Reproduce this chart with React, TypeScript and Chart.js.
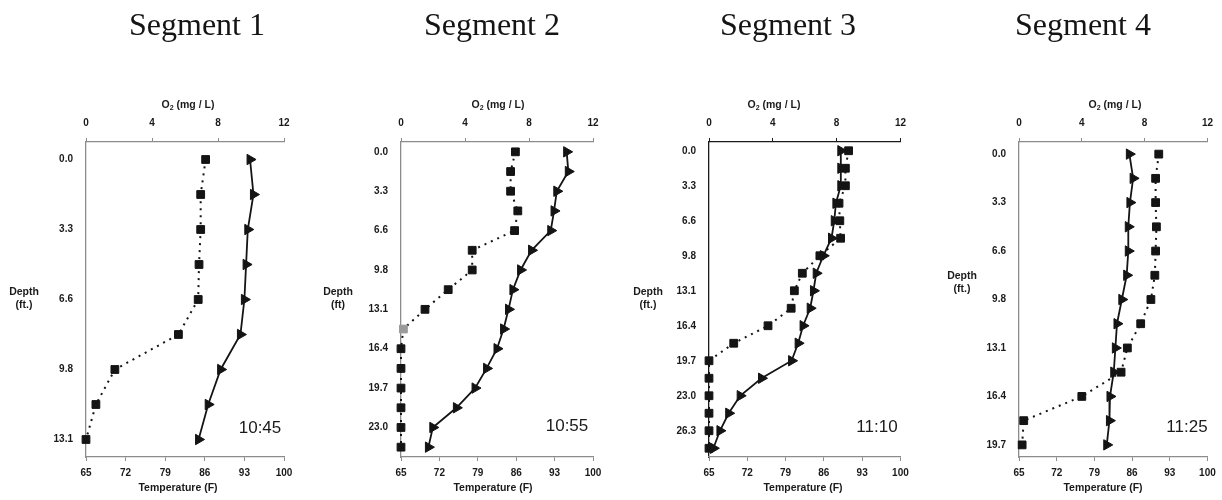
import React, { useEffect, useRef } from "react";
import { Chart, registerables } from "chart.js";

Chart.register(...registerables);

// ---------- data ----------
const segmentTitles = ["Segment 1", "Segment 2", "Segment 3", "Segment 4"];
const timeLabels = ["10:45", "10:55", "11:10", "11:25"];

const depth1 = ["0.0", "1.6", "3.3", "4.9", "6.6", "8.2", "9.8", "11.5", "13.1"];
const o2Seg1 = [7.25, 6.95, 6.95, 6.85, 6.8, 5.6, 1.75, 0.6, 0.0];
const tempSeg1 = [94.0, 94.6, 93.6, 93.3, 93.0, 92.3, 88.8, 86.6, 84.9];

const depth2 = ["0.0", "1.6", "3.3", "4.9", "6.6", "8.2", "9.8", "11.5", "13.1", "14.8", "16.4", "18.0", "19.7", "21.3", "23.0", "24.6"];
const o2Seg2 = [7.15, 6.85, 6.85, 7.3, 7.1, 4.45, 4.45, 2.95, 1.5, 0.15, 0, 0, 0, 0, 0, 0];
const tempSeg2 = [95.2, 95.5, 93.4, 92.9, 92.3, 88.8, 86.8, 85.4, 84.6, 83.7, 82.5, 80.6, 78.5, 75.1, 70.8, 70.0];

const depth3 = ["0.0", "1.6", "3.3", "4.9", "6.6", "8.2", "9.8", "11.5", "13.1", "14.8", "16.4", "18.0", "19.7", "21.3", "23.0", "24.6", "26.3", "27.9"];
const o2Seg3 = [8.75, 8.55, 8.55, 8.15, 8.2, 8.25, 6.95, 5.85, 5.35, 5.15, 3.7, 1.55, 0, 0, 0, 0, 0, 0];
const tempSeg3 = [89.1, 89.1, 89.1, 88.2, 87.9, 87.4, 85.9, 84.6, 84.1, 83.5, 82.2, 81.3, 80.1, 74.6, 70.7, 68.6, 67.0, 65.8];

const depth4 = ["0.0", "1.6", "3.3", "4.9", "6.6", "8.2", "9.8", "11.5", "13.1", "14.8", "16.4", "18.0", "19.7"];
const o2Seg4 = [8.9, 8.7, 8.7, 8.75, 8.7, 8.65, 8.4, 7.75, 6.9, 6.5, 4.0, 0.3, 0.2];
const tempSeg4 = [85.5, 86.2, 85.6, 85.3, 85.3, 85.0, 84.1, 83.2, 82.9, 82.6, 81.9, 81.8, 81.3];

// index of the grey (highlighted) oxygen reading per segment (-1 = none)
const greyPoint = [-1, 9, -1, -1];

const o2Min = 0, o2Max = 12, o2Step = 4;
const tempMin = 65, tempMax = 100, tempStep = 7;

const depths = [depth1, depth2, depth3, depth4];
const o2s = [o2Seg1, o2Seg2, o2Seg3, o2Seg4];
const temps = [tempSeg1, tempSeg2, tempSeg3, tempSeg4];

// ---------- layout (positions / styles only) ----------
const panels = [
  { cl: 0, cw: 300, pl: 86, pr: 284, titleX: 129, o2X: 188, tempX: 178, depthX: 24, depthY: 292, ft: "(ft.)", timeX: 260, timeY: 428, top: "#8c8c8c", left: "#8c8c8c", bottom: "#8c8c8c" },
  { cl: 300, cw: 310, pl: 401, pr: 593, titleX: 424, o2X: 498, tempX: 493, depthX: 338, depthY: 292, ft: "(ft)", timeX: 567, timeY: 426, top: "#8c8c8c", left: "#8c8c8c", bottom: "#8c8c8c" },
  { cl: 610, cw: 305, pl: 709, pr: 902, titleX: 720, o2X: 774, tempX: 803, depthX: 648, depthY: 292, ft: "(ft.)", timeX: 877, timeY: 427, top: "#1a1a1a", left: "#1a1a1a", bottom: "#8c8c8c" },
  { cl: 915, cw: 307, pl: 1019, pr: 1210, titleX: 1015, o2X: 1115, tempX: 1103, depthX: 962, depthY: 276, ft: "(ft.)", timeX: 1187, timeY: 427, top: "#8c8c8c", left: "#8c8c8c", bottom: "#8c8c8c" },
];

const SANS = '"Liberation Sans", Arial, sans-serif';
const TEXT = "#1a1a1a";

function drawO2Title(ctx: CanvasRenderingContext2D, cx: number, cy: number) {
  const big = "bold 10.5px " + SANS;
  const small = "bold 7px " + SANS;
  ctx.font = big;
  const wO = ctx.measureText("O").width;
  const rest = " (mg / L)";
  const wR = ctx.measureText(rest).width;
  ctx.font = small;
  const w2 = ctx.measureText("2").width;
  const total = wO + w2 + wR;
  let x = cx - total / 2;
  ctx.textAlign = "left";
  ctx.textBaseline = "middle";
  ctx.font = big;
  ctx.fillText("O", x, cy);
  x += wO;
  ctx.font = small;
  ctx.fillText("2", x, cy + 3);
  x += w2;
  ctx.font = big;
  ctx.fillText(rest, x, cy);
}

function makeAnnotPlugin(i: number) {
  const p = panels[i];
  return {
    id: "annot" + i,
    afterDraw(chart: any) {
      const ctx: CanvasRenderingContext2D = chart.ctx;
      const ox = p.cl;
      ctx.save();
      ctx.fillStyle = "#141414";
      ctx.font = '32px "Liberation Serif", "Times New Roman", serif';
      ctx.textAlign = "left";
      ctx.textBaseline = "alphabetic";
      ctx.fillText(segmentTitles[i], p.titleX - ox, 35);

      ctx.fillStyle = TEXT;
      drawO2Title(ctx, p.o2X - ox, 105);

      ctx.font = "bold 10.5px " + SANS;
      ctx.textAlign = "center";
      ctx.textBaseline = "middle";
      ctx.fillText("Temperature (F)", p.tempX - ox, 488);
      ctx.fillText("Depth", p.depthX - ox, p.depthY);
      ctx.fillText(p.ft, p.depthX - ox, p.depthY + 13);

      ctx.font = "17px " + SANS;
      ctx.fillText(timeLabels[i], p.timeX - ox, p.timeY);
      ctx.restore();
    },
  };
}

function Panel({ i }: { i: number }) {
  const ref = useRef<HTMLCanvasElement | null>(null);
  const p = panels[i];
  useEffect(() => {
    if (!ref.current) return;
    const labels = depths[i];
    const colors = o2s[i].map((_, k) => (k === greyPoint[i] ? "#9a9a9a" : "#141414"));
    const chart = new Chart(ref.current, {
      type: "line",
      data: {
        labels,
        datasets: [
          {
            label: "Temperature",
            data: temps[i],
            xAxisID: "xBottom",
            yAxisID: "y",
            borderColor: "#141414",
            borderWidth: 1.8,
            pointStyle: "triangle",
            pointRotation: 90,
            pointRadius: 6,
            pointBackgroundColor: "#141414",
            pointBorderColor: "#141414",
            pointBorderWidth: 1,
            tension: 0,
            clip: false,
          } as any,
          {
            label: "O2",
            data: o2s[i],
            xAxisID: "xTop",
            yAxisID: "y",
            borderColor: "#141414",
            borderWidth: 2,
            borderDash: [2, 5],
            pointStyle: "rect",
            pointRadius: 5.5,
            pointBackgroundColor: colors,
            pointBorderColor: colors,
            pointBorderWidth: 1,
            tension: 0,
            clip: false,
          } as any,
        ],
      },
      options: {
        indexAxis: "y",
        responsive: false,
        animation: false,
        events: [],
        layout: { padding: { left: 0, top: 0, bottom: 0, right: p.cw - (p.pr - p.cl) } },
        plugins: { legend: { display: false }, tooltip: { enabled: false }, title: { display: false } },
        scales: {
          y: {
            type: "category",
            position: "left",
            offset: true,
            grid: { display: true, drawOnChartArea: false, drawTicks: false },
            border: { display: true, color: p.left, width: 1.3 },
            ticks: {
              autoSkip: false,
              padding: 13,
              color: TEXT,
              font: { family: SANS, size: 10, weight: "bold" },
              callback: (v: any, idx: number) => (idx % 2 === 0 ? labels[idx] : ""),
            },
            afterFit: (s: any) => {
              s.width = p.pl - p.cl;
            },
          },
          xTop: {
            type: "linear",
            position: "top",
            min: o2Min,
            max: o2Max,
            grid: { display: true, drawOnChartArea: false, drawTicks: true, tickLength: 4, color: p.top },
            border: { display: true, color: p.top, width: 1.3 },
            ticks: {
              stepSize: o2Step,
              padding: 9,
              color: TEXT,
              font: { family: SANS, size: 10, weight: "bold" },
            },
            afterFit: (s: any) => {
              s.height = 142;
            },
          },
          xBottom: {
            type: "linear",
            position: "bottom",
            min: tempMin,
            max: tempMax,
            grid: { display: true, drawOnChartArea: false, drawTicks: true, tickLength: 4, color: p.bottom },
            border: { display: true, color: p.bottom, width: 1.3 },
            ticks: {
              stepSize: tempStep,
              padding: 6,
              color: TEXT,
              font: { family: SANS, size: 10, weight: "bold" },
            },
            afterFit: (s: any) => {
              s.height = 43;
            },
          },
        },
      } as any,
      plugins: [makeAnnotPlugin(i)],
    });
    return () => chart.destroy();
  }, [i]);
  return (
    <canvas
      ref={ref}
      width={p.cw}
      height={500}
      style={{ position: "absolute", left: p.cl, top: 0, width: p.cw, height: 500 }}
    />
  );
}

export default function App() {
  return (
    <div
      style={{
        position: "fixed",
        left: 0,
        top: 0,
        width: 1222,
        height: 500,
        background: "#ffffff",
        overflow: "hidden",
      }}
    >
      {panels.map((_, i) => (
        <Panel key={i} i={i} />
      ))}
    </div>
  );
}
